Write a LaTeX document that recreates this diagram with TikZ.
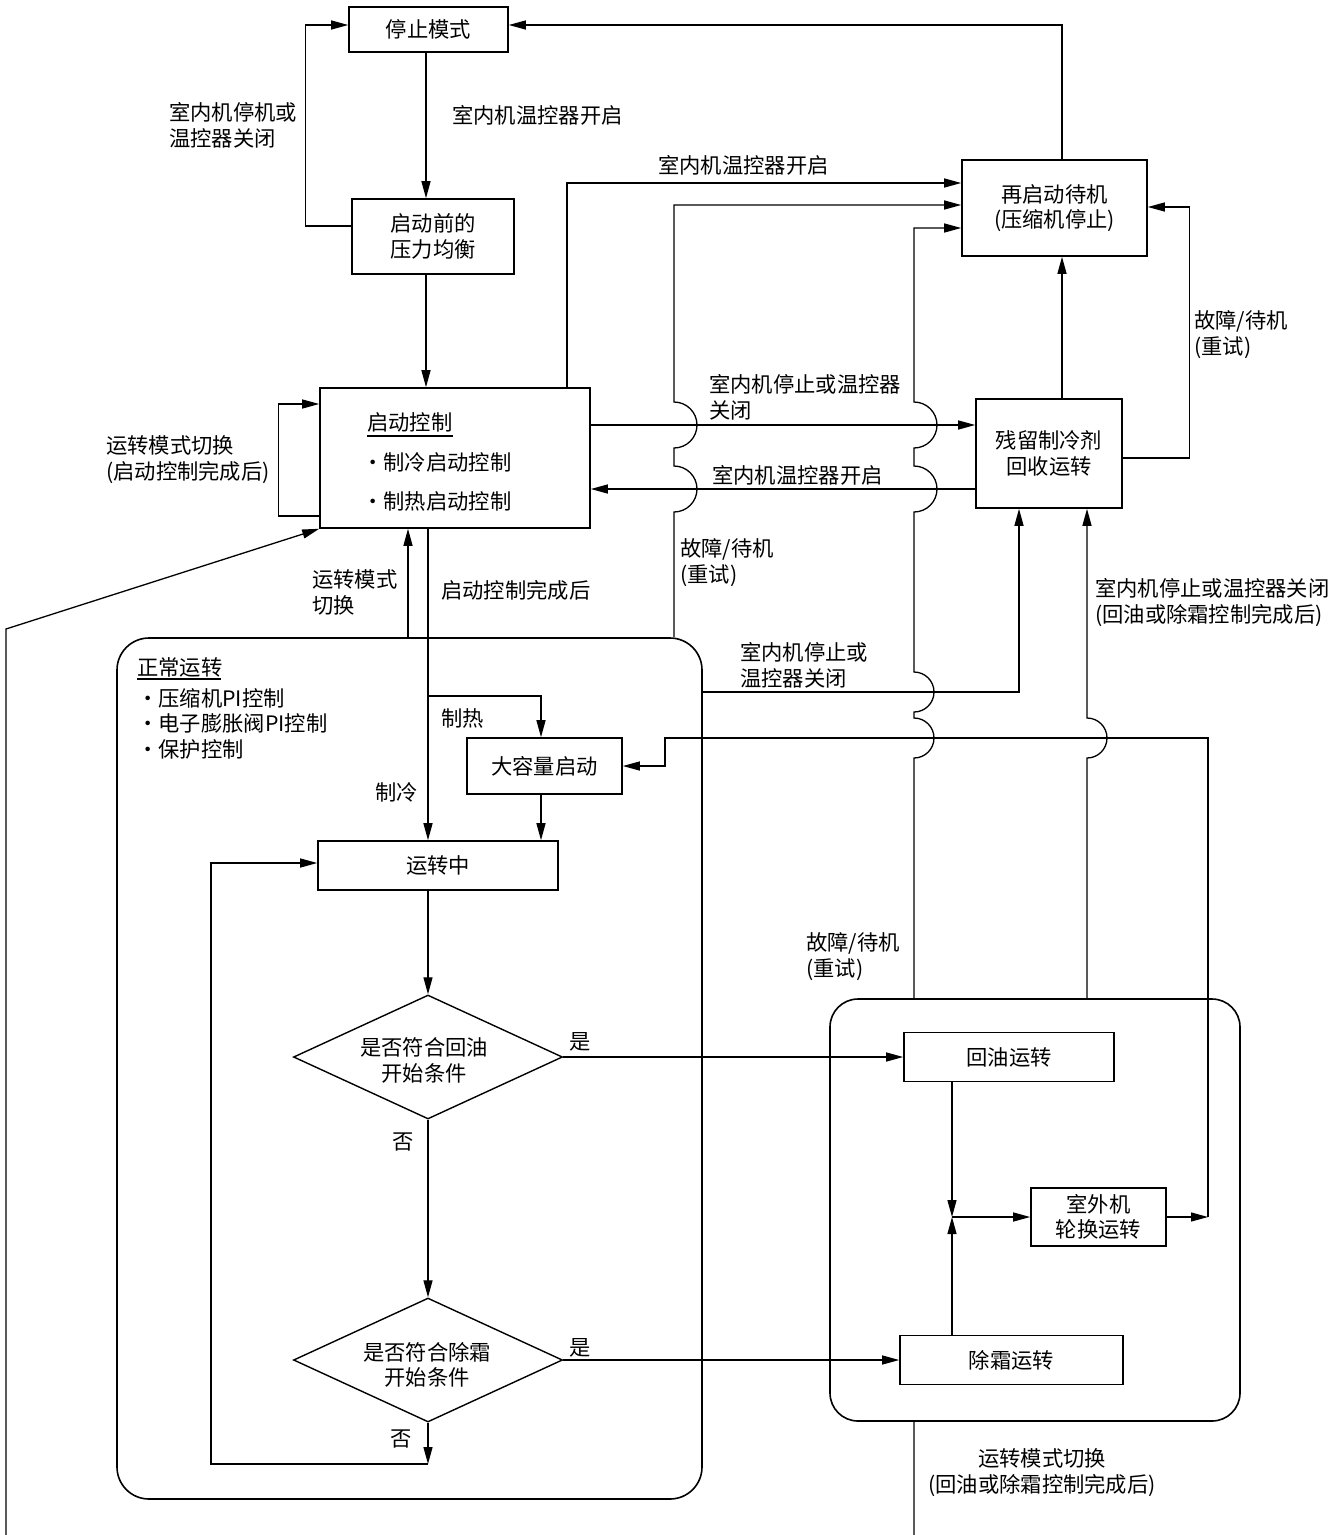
\documentclass[tikz,border=0pt]{standalone}
\usepackage{fontspec}
\setmainfont{Noto Sans CJK SC}
\usetikzlibrary{arrows.meta,shapes.geometric,calc}
\begin{document}
\begin{tikzpicture}[x=1pt,y=-1pt,
  font=\fontsize{21.3}{25.5}\selectfont,
  box/.style={draw,line width=1.6pt,inner sep=0pt,align=center},
  rbox/.style={draw,line width=1.6pt,inner sep=0pt},
  dia/.style={draw,line width=1.4pt,diamond,inner sep=0pt,minimum width=269pt,minimum height=124pt},
  lbl/.style={inner sep=0pt,anchor=west,align=left},
  clbl/.style={inner sep=0pt,align=center},
  arr/.style={line width=1.3pt,-{Triangle[length=17pt,width=9pt]}},
  ul/.style={line width=1.2pt}]
\useasboundingbox (0,0) rectangle (1342,1535);
\clip (0,0) rectangle (1342,1535);

% boxes
\node[box,minimum width=159pt,minimum height=45pt] (stop) at (428.5,29.5) {停止模式};
\node[box,minimum width=162pt,minimum height=75pt] (pre) at (433,236.5) {启动前的\\压力均衡};
\node[box,minimum width=270pt,minimum height=140pt] (startc) at (455,458) {};
\node[box,minimum width=185pt,minimum height=96pt] (restart) at (1054.5,208) {再启动待机\\(压缩机停止)};
\node[box,minimum width=146pt,minimum height=109pt] (resid) at (1049,453.5) {残留制冷剂\\回收运转};
\node[rbox,rounded corners=32pt,minimum width=585pt,minimum height=861pt] (normal) at (409.5,1068.5) {};
\node[rbox,rounded corners=28pt,minimum width=410pt,minimum height=422pt] (outdoor) at (1035,1210) {};
\node[box,minimum width=155pt,minimum height=56pt] (big) at (544.5,766) {大容量启动};
\node[box,minimum width=240pt,minimum height=49pt] (run) at (438,865.5) {运转中};
\node[dia] (d1) at (428,1057) {};
\node[clbl] (d1t) at (424,1060.5) {是否符合回油\\开始条件};
\node[dia] (d2) at (428,1360) {};
\node[clbl] (d2t) at (427,1365) {是否符合除霜\\开始条件};
\node[box,minimum width=210pt,minimum height=49pt] (oil) at (1009,1057) {回油运转};
\node[box,minimum width=135pt,minimum height=58pt] (rot) at (1098.5,1217) {室外机\\轮换运转};
\node[box,minimum width=223pt,minimum height=49pt] (defrost) at (1011.5,1360) {除霜运转};

% texts inside start control box
\node[lbl] (sct) at (367,422) {启动控制};
\draw[ul] ([yshift=-14pt]sct.west) -- ++(86,0);
\node[lbl] (sc1) at (362,462) {・制冷启动控制};
\node[lbl] (sc2) at (362,501) {・制热启动控制};

% texts inside normal operation box
\node[lbl] (nt) at (137,667) {正常运转};
\draw[ul] ([yshift=-12pt]nt.west) -- ++(84,0);
\node[lbl] (nb1) at (137,698) {・压缩机PI控制};
\node[lbl] (nb2) at (137,723) {・电子膨胀阀PI控制};
\node[lbl] (nb3) at (137,749) {・保护控制};

% connectors
\draw[arr] ([xshift=7.5pt]restart.north) |- ([yshift=4.5pt]stop.east);
\draw[arr] ([yshift=10.5pt]pre.west) -- ++(-46,0) |- ([yshift=4.5pt]stop.west);
\draw[arr] ([xshift=-2.5pt]stop.south) -- ([xshift=-7pt]pre.north);
\draw[arr] ([xshift=-7pt]pre.south) -- ([xshift=-29pt]startc.north);
\draw[arr] ([yshift=-58pt]startc.west) -- ++(-41,0) |- ([yshift=54pt]startc.west);
\draw[arr] ([xshift=-121pt]outdoor.south) -- ++(0,140) -| (6,629) -- (startc.south west);
\draw[arr] ([xshift=-1.5pt]normal.north) -- ([xshift=-47pt]startc.south);
\draw[arr] ([xshift=-27pt]startc.south) -- ([xshift=-10pt]run.north);
\coordinate (br) at (428,696);
\draw[arr] (br) -| ([xshift=-3.5pt]big.north);
\draw[arr] ([xshift=-3.5pt]big.south) -- ([xshift=103pt]run.north);
\draw[arr] ([xshift=-10pt]run.south) -- (d1.north);
\draw[arr] (d1.south) -- (d2.north);
\coordinate (lp) at (428,1464);
\draw[arr] (d2.south) -- (lp);
\draw[arr] (lp) -- ++(-217,0) |- ([yshift=2.5pt]run.west);
\draw[arr] (d1.east) -- (oil.west);
\draw[arr] (d2.east) -- (defrost.west);
\coordinate (jn) at (952,1217);
\draw[arr] ([xshift=-57pt]oil.south) -- (jn);
\draw[arr] ([xshift=-59.5pt]defrost.north) -- (jn);
\draw[arr] (jn) -- (rot.west);
\coordinate (rc) at (1208,1217);
\draw[arr] (rot.east) -- (rc);
\draw[arr] (rc) |- (665,738) |- (big.east);
\draw[arr] ([yshift=376.5pt]normal.east) -| ([xshift=-30pt]resid.south);
\draw[arr] ([xshift=52pt]outdoor.north) -- (1087,758) arc[start angle=90,end angle=-90,radius=20] -- ([xshift=38pt]resid.south);
\draw[arr] ([xshift=-121pt]outdoor.north) -- (914,758) arc[start angle=90,end angle=-90,radius=20]
   -- (914,712) arc[start angle=90,end angle=-90,radius=20]
   -- (914,512) arc[start angle=90,end angle=-90,radius=23]
   -- (914,448) arc[start angle=90,end angle=-90,radius=23]
   |- ([yshift=-20pt]restart.west);
\draw[arr] ([xshift=264.5pt]normal.north) -- (674,512) arc[start angle=90,end angle=-90,radius=23]
   -- (674,448) arc[start angle=90,end angle=-90,radius=23]
   |- ([yshift=3pt]restart.west);
\draw[arr] ([xshift=112pt]startc.north) |- ([yshift=25pt]restart.west);
\draw[arr] ([yshift=33pt]startc.east) -- ([yshift=28.5pt]resid.west);
\draw[arr] ([yshift=-35.5pt]resid.west) -- ([yshift=-31pt]startc.east);
\draw[arr] ([xshift=13pt]resid.north) -- ([xshift=7.5pt]restart.south);
\draw[arr] ([yshift=-4.5pt]resid.east) -- ++(67,0) |- ([yshift=1pt]restart.east);

% labels
\node[lbl] (l1) at (169,125.5) {室内机停机或\\温控器关闭};
\node[lbl] (l2) at (452,115) {室内机温控器开启};
\node[lbl] (l3) at (658,165) {室内机温控器开启};
\node[lbl] (l4) at (106,459.5) {运转模式切换\\(启动控制完成后)};
\node[lbl] (l5) at (709,397.5) {室内机停止或温控器\\关闭};
\node[lbl] (l6) at (712,475) {室内机温控器开启};
\node[lbl] (l7) at (1194,334.5) {故障/待机\\(重试)};
\node[lbl] (l8) at (680,562.5) {故障/待机\\(重试)};
\node[lbl] (l9) at (312,592.5) {运转模式\\切换};
\node[lbl] (l10) at (441,590) {启动控制完成后};
\node[lbl] (l11) at (740,665.5) {室内机停止或\\温控器关闭};
\node[lbl] (l12) at (1095,602.5) {室内机停止或温控器关闭\\(回油或除霜控制完成后)};
\node[lbl] (l13) at (441,718) {制热};
\node[lbl] (l14) at (375,792) {制冷};
\node[lbl] (l15) at (806,956.5) {故障/待机\\(重试)};
\node[lbl] (yes1) at (569,1042) {是};
\node[lbl] (no1) at (392,1142) {否};
\node[lbl] (yes2) at (569,1348) {是};
\node[lbl] (no2) at (390,1439) {否};
\node[clbl] (l17) at (1042,1472.5) {运转模式切换\\(回油或除霜控制完成后)};
\end{tikzpicture}
\end{document}
